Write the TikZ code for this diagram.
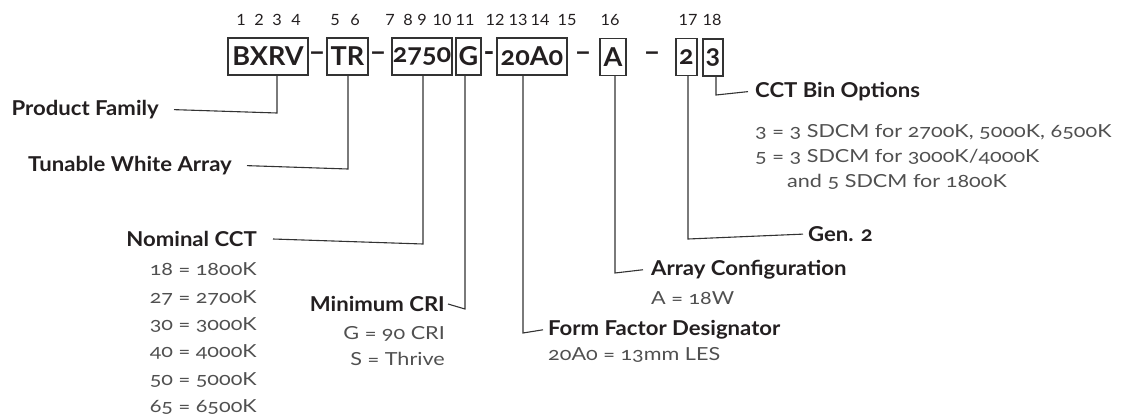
\documentclass[tikz,border=0pt]{standalone}
\usepackage{fontspec}
\setmainfont{Lato}[Numbers=OldStyle]
\newfontfamily\valfont{Lato}[Numbers=OldStyle, FakeStretch=1.2]
\newfontfamily\headfont{Lato}[Numbers=OldStyle, FakeStretch=1.08]
\newfontfamily\numfont{Lato}[Numbers=Lining, FakeStretch=1.05]
\newfontfamily\codefont{Lato}[Numbers=OldStyle, FakeStretch=1.04]
\usetikzlibrary{calc}
\definecolor{ink}{HTML}{231F20}
\definecolor{soft}{HTML}{505050}
\definecolor{wire}{HTML}{333333}
\tikzset{
  codebox/.style={draw=wire, line width=1.1pt, inner sep=0pt, minimum height=37pt, text=ink, font=\codefont\fontsize{26}{28}\selectfont\bfseries},
  sep/.style={inner sep=0pt, text=ink, font=\codefont\fontsize{28}{30}\selectfont\bfseries},
  posnum/.style={inner sep=0pt, text=ink, font=\numfont\fontsize{15.5}{17}\selectfont},
  head/.style={inner sep=0pt, text=ink, font=\headfont\fontsize{20.5}{23}\selectfont\bfseries},
  val/.style={inner sep=0pt, text=soft, font=\valfont\fontsize{18}{20}\selectfont},
  conn/.style={draw=wire, line width=1.1pt}
}
\begin{document}
\begin{tikzpicture}[x=1pt,y=-1pt]
\useasboundingbox (0,0) rectangle (1122,415);
% code boxes
\node[codebox, minimum width=80pt] (bxrv) at (268,56.5) {BXRV};
\node[codebox, minimum width=41pt] (tr) at (347.5,56.5) {TR};
\node[codebox, minimum width=60pt] (cct) at (422,56.5) {2750};
\node[codebox, minimum width=25pt] (g) at (468.5,56.5) {G};
\node[codebox, minimum width=70pt] (ff) at (532,56.5) {20A0};
\node[codebox, minimum width=26pt] (a) at (613,57) {A};
\node[codebox, minimum width=21pt] (gen) at (686.5,57) {2};
\node[codebox, minimum width=20pt] (bin) at (713,57.5) {3};
% separators
\node[sep] (s1) at (317,57) {–};
\node[sep] (s2) at (378,57) {–};
\node[sep] (s3) at (489,57) {-};
\node[sep] (s4) at (583,57) {–};
\node[sep] (s5) at (652,57) {–};
% position numbers
\foreach \n/\x in {1/241,2/259,3/277,4/296,5/335,6/355,7/390,8/408,9/422,10/442,11/465,12/495,13/518,14/540,15/567,16/610,17/688,18/712}
  \node[posnum] (p\n) at (\x,20) {\n};
% labels
\node[head, anchor=mid east] (pf) at (159,113) {Product Family};
\node[head, anchor=mid east] (tw) at (232,169) {Tunable White Array};
\node[head, anchor=mid east] (nc) at (257,244) {Nominal CCT};
\node[val, anchor=mid east] (nc1) at (257,273) {18 = 1800K};
\node[val, anchor=mid east] (nc2) at (257,301) {27 = 2700K};
\node[val, anchor=mid east] (nc3) at (257,328) {30 = 3000K};
\node[val, anchor=mid east] (nc4) at (257,355) {40 = 4000K};
\node[val, anchor=mid east] (nc5) at (257,383) {50 = 5000K};
\node[val, anchor=mid east] (nc6) at (257,410) {65 = 6500K};
\node[head, anchor=mid east] (mc) at (445,309) {Minimum CRI};
\node[val, anchor=mid east] (mc1) at (445,337) {G = 90 CRI};
\node[val, anchor=mid east] (mc2) at (445,363) {S = Thrive};
\node[head, anchor=mid west] (fd) at (548,333) {Form Factor Designator};
\node[val, anchor=mid west] (fd1) at (548,358) {20A0 = 13mm LES};
\node[head, anchor=mid west] (ac) at (651,273) {Array Configuration};
\node[val, anchor=mid west] (ac1) at (651,302) {A = 18W};
\node[head, anchor=mid west] (g2) at (808,239) {Gen. 2};
\node[head, anchor=mid west] (cb) at (755,95) {CCT Bin Options};
\node[val, anchor=mid west] (cb1) at (755,135) {3 = 3 SDCM for 2700K, 5000K, 6500K};
\node[val, anchor=mid west] (cb2) at (755,160) {5 = 3 SDCM for 3000K/4000K};
\node[val, anchor=mid west] (cb3) at (787,185) {and 5 SDCM for 1800K};
% bend points
\coordinate (k1) at (277,113);
\coordinate (k2) at (348,169);
\coordinate (k3) at (423,244);
\coordinate (k4) at (465,309);
\coordinate (k5) at (523,333);
\coordinate (k6) at (615,273);
\coordinate (k7) at (688,239);
\coordinate (k8) at (716,95);
% connectors
\draw[conn] (bxrv.south -| k1) -- (k1) -- ([xshift=15pt]pf.east);
\draw[conn] (tr.south -| k2) -- (k2) -- ([xshift=15pt]tw.east);
\draw[conn] (cct.south -| k3) -- (k3) -- ([xshift=16pt]nc.east);
\draw[conn] (g.south -| k4) -- (k4) -- ([xshift=3pt]mc.east);
\draw[conn] (ff.south -| k5) -- (k5) -- ([xshift=-5pt]fd.west);
\draw[conn] (a.south -| k6) -- (k6) -- ([xshift=-8pt]ac.west);
\draw[conn] (gen.south -| k7) -- (k7) -- ([xshift=-5pt]g2.west);
\draw[conn] (bin.south -| k8) -- (k8) -- ([xshift=-7pt]cb.west);
\end{tikzpicture}
\end{document}
